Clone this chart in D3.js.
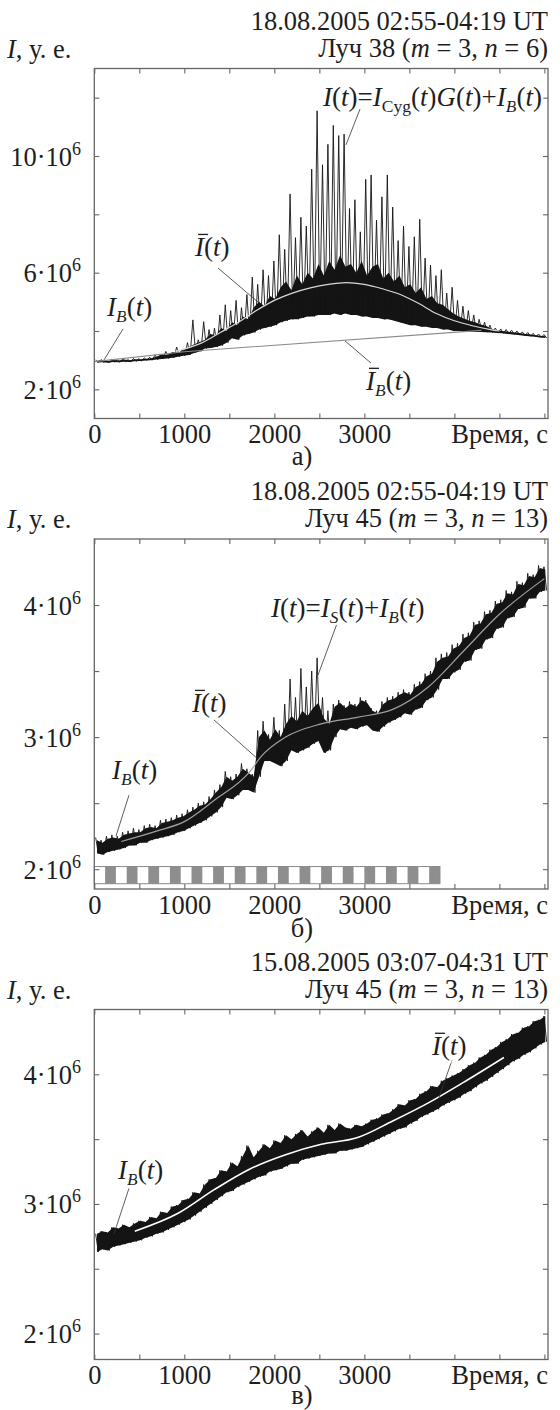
<!DOCTYPE html>
<html><head><meta charset="utf-8">
<script src="https://cdn.jsdelivr.net/npm/d3@7"></script>
<style>
body{margin:0;background:#fff;}
svg{display:block;}
text{fill:#1e1e1e;white-space:pre;font-family:"Liberation Serif","Times New Roman",serif;}
</style></head><body>
<svg id="chart" width="560" height="1410"></svg>
<script>
// ---------------- DATA ----------------
const binStep = 60;                 // seconds per bin of the raw record
const timeDomain = [0, 5040];       // seconds
const xTickValues = [0,500,1000,1500,2000,2500,3000,3500,4000,4500,5000];
const xLabelValues = [0,1000,2000,3000];
const xAxisTitle = "Время, с";

// panel а): spike tops / dense-core top / lower envelope (units of 10^6)
const hiA = [3.00,3.02,2.99,3.03,3.01,3.04,3.02,3.06,3.05,3.08,3.10,
 3.18,3.15,3.30,3.22,3.45,3.38,
 3.60,4.38,3.70,4.32,4.05,4.10,
 4.55,4.90,4.70,5.05,4.80,5.25,
 5.85,5.60,6.10,5.90,6.40,
 7.30,6.80,8.70,7.20,7.90,
 7.60,9.55,11.55,9.70,10.40,11.05,10.70,10.75,8.20,
 8.50,7.40,9.20,9.35,7.80,8.60,9.35,8.25,7.10,7.60,
 6.90,7.23,7.83,6.50,6.26,5.90,6.10,5.30,5.50,
 5.05,4.85,4.70,4.55,4.40,4.30,4.20,
 4.10,4.07,4.05,4.03,4.00,3.97,3.95,3.92,3.90,3.88];
const midA = [2.98,3.00,2.97,3.01,2.99,3.02,3.00,3.03,3.03,3.05,3.07,
 3.12,3.20,3.18,3.28,3.25,3.35,
 3.45,3.55,3.62,3.70,3.90,3.85,
 4.10,4.00,4.30,4.20,4.50,4.40,
 4.80,5.00,4.85,5.20,5.10,
 5.50,5.70,5.40,5.90,5.60,
 6.00,5.80,6.30,5.90,6.40,6.10,6.60,6.20,6.30,
 6.00,6.40,5.90,6.20,6.30,5.80,6.00,5.70,5.90,5.50,
 5.60,5.30,5.50,5.10,5.20,4.95,4.90,4.75,4.60,
 4.50,4.42,4.35,4.30,4.22,4.18,4.08,
 4.02,4.00,3.98,3.96,3.94,3.91,3.89,3.86,3.84,3.82];
const loA = [2.92,2.93,2.91,2.94,2.93,2.95,2.94,2.96,2.97,2.99,3.00,
 3.02,3.04,3.06,3.08,3.12,3.15,
 3.18,3.25,3.30,3.40,3.42,3.45,
 3.50,3.60,3.75,3.70,3.85,3.90,
 3.95,4.05,4.10,4.15,4.20,
 4.30,4.35,4.40,4.40,4.45,
 4.50,4.50,4.55,4.55,4.55,4.60,4.55,4.60,4.55,
 4.55,4.50,4.50,4.45,4.45,4.40,4.40,4.35,4.30,4.25,
 4.20,4.20,4.15,4.15,4.10,4.10,4.05,4.05,4.00,
 4.00,3.98,3.98,3.97,3.97,3.96,3.95,
 3.93,3.92,3.90,3.88,3.86,3.84,3.82,3.80,3.78,3.76];
const meanA_t = [900,1200,1400,1600,1800,2000,2200,2400,2600,2800,3000,3200,3400,3600,3800,4000,4200,4400,4500];
const meanA_v = [3.30,3.60,3.95,4.30,4.70,5.05,5.30,5.48,5.60,5.66,5.60,5.45,5.25,4.95,4.60,4.35,4.18,4.05,4.00];
const bgA_t = [0,1000,4300];
const bgA_v = [2.95,3.29,4.02];

// panel б)
const hiB = [2.24,2.22,2.25,2.26,2.25,2.28,2.29,2.31,2.30,2.33,
 2.34,2.33,2.37,2.38,2.39,2.41,2.42,2.45,2.47,2.50,
 2.51,2.55,2.60,2.64,2.74,2.70,2.72,2.80,2.76,2.72,
 3.05,3.12,3.02,3.15,3.05,3.25,3.44,3.30,3.52,3.38,
 3.50,3.60,3.30,3.20,3.25,3.28,3.24,3.27,3.25,3.30,
 3.28,3.22,3.20,3.27,3.30,3.31,3.34,3.36,3.34,3.40,
 3.42,3.48,3.50,3.60,3.63,3.64,3.70,3.71,3.78,3.79,
 3.87,3.88,3.95,3.96,4.03,4.04,4.11,4.10,4.18,4.17,
 4.24,4.23,4.30,4.29];
const midB = [2.22,2.20,2.23,2.24,2.23,2.26,2.27,2.28,2.28,2.31,
 2.32,2.31,2.35,2.36,2.37,2.39,2.40,2.43,2.45,2.48,
 2.49,2.53,2.58,2.62,2.70,2.67,2.70,2.76,2.73,2.70,
 3.00,3.05,2.98,3.06,3.00,3.10,3.16,3.12,3.20,3.16,
 3.22,3.26,3.14,3.10,3.23,3.26,3.22,3.25,3.23,3.28,
 3.26,3.20,3.18,3.25,3.28,3.29,3.32,3.34,3.32,3.38,
 3.40,3.46,3.48,3.57,3.60,3.61,3.67,3.69,3.75,3.77,
 3.85,3.86,3.93,3.94,4.01,4.02,4.09,4.08,4.16,4.15,
 4.22,4.21,4.28,4.27];
const loB = [2.12,2.11,2.13,2.14,2.15,2.16,2.18,2.18,2.20,2.20,
 2.22,2.23,2.24,2.25,2.26,2.28,2.29,2.31,2.33,2.35,
 2.37,2.40,2.43,2.47,2.54,2.53,2.56,2.60,2.60,2.58,
 2.70,2.82,2.82,2.80,2.78,2.82,2.90,2.88,2.90,2.92,
 2.95,2.97,2.88,2.90,3.00,3.06,3.05,3.07,3.06,3.08,
 3.09,3.05,3.04,3.08,3.11,3.13,3.15,3.18,3.17,3.21,
 3.22,3.28,3.30,3.36,3.44,3.44,3.49,3.51,3.57,3.58,
 3.66,3.67,3.74,3.75,3.82,3.83,3.90,3.91,3.97,3.98,
 4.05,4.05,4.10,4.11];
const meanB_t = [300,700,1000,1330,1730,1850,2125,2520,2920,3315,3710,4100,4500,5000];
const meanB_v = [2.21,2.29,2.36,2.52,2.74,2.85,3.00,3.10,3.15,3.21,3.38,3.65,3.93,4.20];
const stripeGrayStarts = [120,360,600,840,1080,1320,1560,1800,2040,2280,2520,2760,3000,3240,3480,3720];
const stripeSegment = 120, stripeEnd = 3840;

// panel в)
const hiC = [2.77,2.79,2.78,2.82,2.81,2.84,2.82,2.85,2.87,2.86,
 2.90,2.89,2.94,2.93,2.98,2.99,3.03,3.04,3.09,3.08,
 3.15,3.19,3.20,3.26,3.25,3.32,3.29,3.37,3.45,3.36,
 3.41,3.46,3.43,3.49,3.47,3.53,3.50,3.54,3.57,3.52,
 3.56,3.59,3.55,3.61,3.57,3.62,3.59,3.58,3.61,3.60,
 3.62,3.65,3.66,3.69,3.70,3.73,3.77,3.76,3.80,3.81,
 3.85,3.87,3.91,3.90,3.95,3.97,3.99,4.01,4.04,4.07,
 4.09,4.13,4.15,4.19,4.21,4.25,4.27,4.31,4.32,4.36,
 4.37,4.41,4.42,4.45];
const loC = [2.63,2.65,2.64,2.67,2.68,2.69,2.70,2.71,2.72,2.74,
 2.75,2.77,2.78,2.80,2.82,2.84,2.86,2.88,2.91,2.94,
 2.97,3.00,3.03,3.06,3.09,3.10,3.13,3.15,3.17,3.19,
 3.21,3.22,3.25,3.26,3.27,3.29,3.31,3.31,3.34,3.35,
 3.36,3.37,3.38,3.39,3.39,3.41,3.41,3.42,3.43,3.44,
 3.46,3.48,3.50,3.52,3.54,3.56,3.58,3.59,3.62,3.64,
 3.67,3.69,3.71,3.73,3.76,3.78,3.80,3.82,3.85,3.87,
 3.90,3.93,3.95,3.98,4.01,4.04,4.07,4.10,4.12,4.15,
 4.17,4.20,4.23,4.25];
const meanC_t = [450,936,1332,1729,2125,2522,2917,3315,3711,4106,4550];
const meanC_v = [2.79,2.93,3.11,3.27,3.38,3.46,3.51,3.64,3.78,3.94,4.13];

// ---------------- LAYOUT ----------------
const FAMILY = "'Liberation Serif','Times New Roman',serif";
const PLOT_L = 94.3, PLOT_R = 548, PLOT_H = 350;
const FONT = 26.5, NOTEFONT = 27, SUBFONT = 17.5, SUPFONT = 18;
const svg = d3.select("#chart").attr("font-family", FAMILY);
const x = d3.scaleLinear().domain(timeDomain).range([PLOT_L, PLOT_R]);

const IB  = [["I","i"],["B","subi"],["(","n"],["t","i"],[")","n"]];
const IBAR = [["I","over"],["(","n"],["t","i"],[")","n"]];
const IBBAR = [["I","over"],["B","subi"],["(","n"],["t","i"],[")","n"]];

const panels = [
 { top:68.5, yDomain:[1,13], yTicks:[2,4,6,8,10,12], yLabels:[2,6,10],
   hi:hiA, mid:midA, lo:loA, letter:"а)", letterDy:46.5,
   title1:"18.08.2005 02:55-04:19 UT",
   title2:[["Луч 38 (","n"],["m","i"],[" = 3, ","n"],["n","i"],[" = 6)","n"]],
   lines:[{t:bgA_t,v:bgA_v,color:"#8a8a8a",w:1.1,curve:d3.curveLinear},
          {t:meanA_t,v:meanA_v,color:"#d8d8d8",w:1.2,curve:d3.curveMonotoneX}],
   notes:[
     {parts:[["I","i"],["(","n"],["t","i"],[")=","n"],["I","i"],["Cyg","sub"],["(","n"],["t","i"],[")","n"],["G","i"],["(","n"],["t","i"],[")+","n"],["I","i"],["B","subi"],["(","n"],["t","i"],[")","n"]],
      at:[2541,11.71], lead:[[2952,11.61],[2796,10.38]]},
     {parts:IBAR, at:[1119,6.57], lead:[[1374,6.16],[1819,4.99]]},
     {parts:IB, at:[141,4.51], lead:[[319,4.07],[108,3.01]]},
     {parts:IBBAR, at:[3018,1.98], lead:[[3074,2.90],[2785,3.66]]}
   ]},
 { top:539, yDomain:[1.85,4.5], yTicks:[2,2.5,3,3.5,4], yLabels:[2,3,4],
   hi:hiB, mid:midB, lo:loB, letter:"б)", letterDy:48, stripes:true,
   title1:"18.08.2005 02:55-04:19 UT",
   title2:[["Луч 45 (","n"],["m","i"],[" = 3, ","n"],["n","i"],[" = 13)","n"]],
   lines:[{t:meanB_t,v:meanB_v,color:"#a0a0a0",w:1.2,curve:d3.curveMonotoneX}],
   notes:[
     {parts:[["I","i"],["(","n"],["t","i"],[")=","n"],["I","i"],["S","subi"],["(","n"],["t","i"],[")+","n"],["I","i"],["B","subi"],["(","n"],["t","i"],[")","n"]],
      at:[1963,3.91], lead:[[2702,3.87],[2485,3.47]]},
     {parts:IBAR, at:[1085,3.19], lead:[[1330,3.13],[1807,2.84]]},
     {parts:IB, at:[197,2.68], lead:[[385,2.56],[241,2.25]]}
   ]},
 { top:1009.5, yDomain:[1.8,4.5], yTicks:[2,2.5,3,3.5,4], yLabels:[2,3,4],
   hi:hiC, mid:hiC, lo:loC, letter:"в)", letterDy:44,
   title1:"15.08.2005 03:07-04:31 UT",
   title2:[["Луч 45 (","n"],["m","i"],[" = 3, ","n"],["n","i"],[" = 13)","n"]],
   lines:[{t:meanC_t,v:meanC_v,color:"#ffffff",w:1.6,curve:d3.curveMonotoneX}],
   notes:[
     {parts:IBAR, at:[3751,4.15], lead:[[3974,4.11],[3829,3.82]]},
     {parts:IB, at:[263,3.19], lead:[[385,3.12],[219,2.77]]}
   ]}
];

// rich text helper: parts = [[string, style]]
function rich(g, px, py, parts, opts={}) {
  const fs = opts.size || FONT;
  const t = g.append("text").attr("x", px).attr("y", py)
    .attr("font-size", fs).attr("font-family", FAMILY)
    .attr("text-anchor", opts.anchor || "start");
  if (opts.halo) t.attr("stroke","#fff").attr("stroke-width",5)
      .attr("stroke-linejoin","round").attr("paint-order","stroke");
  let shift = 0;
  parts.forEach(([s, st]) => {
    const sp = t.append("tspan").text(s);
    let want = 0;
    if (st === "i" || st === "over" || st === "subi") sp.attr("font-style","italic");
    if (st === "sub" || st === "subi") { sp.attr("font-size", SUBFONT); want = 6; }
    if (st === "sup") { sp.attr("font-size", SUPFONT); want = -11; }
    if (want !== shift) { sp.attr("dy", want - shift); shift = want; }
  });
  if (parts[0][1] === "over") {
    const node = t.node();
    const a = node.getStartPositionOfChar(0).x, b = node.getEndPositionOfChar(0).x;
    g.append("line").attr("x1", a + 3).attr("x2", b + 4)
      .attr("y1", py - fs*0.8).attr("y2", py - fs*0.8)
      .attr("stroke","#1e1e1e").attr("stroke-width",1.3);
  }
  return t;
}

panels.forEach(p => {
  const g = svg.append("g");
  const bottom = p.top + PLOT_H;
  const y = d3.scaleLinear().domain(p.yDomain).range([bottom, p.top]);

  // titles
  g.append("text").attr("x", PLOT_R).attr("y", p.top - 39).attr("text-anchor","end")
    .attr("font-size", FONT).attr("font-family", FAMILY).text(p.title1);
  rich(g, PLOT_R, p.top - 12, p.title2, {anchor:"end"});
  rich(g, 7, p.top - 11, [["I","i"],[", у. е.","n"]]);

  // dense band (filled between lower envelope and band top)
  const area = d3.area().x((d,i) => x(i * binStep + binStep/2))
    .y0((d,i) => y(p.lo[i])).y1((d,i) => y(p.mid[i]));
  g.append("path").attr("d", area(p.hi)).attr("fill","#141414");

  // raw trace spikes: zig-zag through spike tops and lows
  const pts = [];
  p.hi.forEach((h, i) => {
    const t0 = i * binStep;
    pts.push([t0 + 15, h], [t0 + 45, p.lo[i]]);
  });
  const line = d3.line().x(d => x(d[0])).y(d => y(d[1]));
  g.append("path").attr("d", line(pts)).attr("fill","none")
    .attr("stroke","#141414").attr("stroke-width",0.9);

  // mean / background curves
  p.lines.forEach(L => {
    const lg = d3.line().curve(L.curve).x(d => x(d[0])).y(d => y(d[1]));
    g.append("path").attr("d", lg(L.t.map((t,i) => [t, L.v[i]])))
      .attr("fill","none").attr("stroke", L.color).attr("stroke-width", L.w);
  });

  // stripe bar
  if (p.stripes) {
    const yb0 = y(2.02), yb1 = y(1.89);
    g.append("rect").attr("x", x(0)).attr("y", yb0).attr("width", x(stripeEnd) - x(0))
      .attr("height", yb1 - yb0).attr("fill","#fff");
    g.selectAll(".stripe").data(stripeGrayStarts).enter().append("rect")
      .attr("x", d => x(d)).attr("y", yb0).attr("width", d => x(d + stripeSegment) - x(d))
      .attr("height", yb1 - yb0).attr("fill","#8e8e8e");
    g.append("rect").attr("x", x(0)).attr("y", yb0).attr("width", x(stripeEnd) - x(0))
      .attr("height", yb1 - yb0).attr("fill","none").attr("stroke","#8a8a8a").attr("stroke-width",1);
  }

  // frame
  g.append("rect").attr("x", PLOT_L).attr("y", p.top).attr("width", PLOT_R - PLOT_L)
    .attr("height", PLOT_H).attr("fill","none").attr("stroke","#666").attr("stroke-width",1.3);

  // axes (inward ticks)
  const styleAxis = sel => {
    sel.select(".domain").remove();
    sel.selectAll(".tick line").attr("stroke","#666").attr("stroke-width",1.1);
    sel.attr("font-size", FONT).attr("font-family", FAMILY);
    sel.selectAll(".tick text").attr("fill","#1e1e1e");
  };
  g.append("g").attr("transform", `translate(0,${bottom})`)
    .call(d3.axisBottom(x).tickValues(xTickValues).tickSizeInner(-5).tickSizeOuter(0).tickPadding(6)
      .tickFormat(d => xLabelValues.includes(d) ? String(d) : ""))
    .call(styleAxis);
  g.append("g").attr("transform", `translate(0,${p.top})`)
    .call(d3.axisTop(x).tickValues(xTickValues).tickSizeInner(-5).tickSizeOuter(0).tickFormat(""))
    .call(styleAxis);
  g.append("g").attr("transform", `translate(${PLOT_L},0)`)
    .call(d3.axisLeft(y).tickValues(p.yTicks).tickSizeInner(-5).tickSizeOuter(0).tickFormat(""))
    .call(styleAxis);
  g.append("g").attr("transform", `translate(${PLOT_R},0)`)
    .call(d3.axisRight(y).tickValues(p.yTicks).tickSizeInner(-5).tickSizeOuter(0).tickFormat(""))
    .call(styleAxis);

  // y labels N·10^6
  p.yLabels.forEach(v => {
    rich(g, PLOT_L - 13.3, y(v) + 9.5, [[v + "·10","n"],["6","sup"]], {anchor:"end"});
  });
  g.append("text").attr("x", PLOT_R).attr("y", bottom + 24.5).attr("text-anchor","end")
    .attr("font-size", FONT).attr("font-family", FAMILY).text(xAxisTitle);
  g.append("text").attr("x", 302).attr("y", bottom + p.letterDy).attr("text-anchor","middle")
    .attr("font-size", FONT).attr("font-family", FAMILY).text(p.letter);

  // annotations
  p.notes.forEach(n => {
    g.append("line").attr("x1", x(n.lead[0][0])).attr("y1", y(n.lead[0][1]))
      .attr("x2", x(n.lead[1][0])).attr("y2", y(n.lead[1][1]))
      .attr("stroke","#333").attr("stroke-width",0.8);
  });
  p.notes.forEach(n => {
    rich(g, x(n.at[0]), y(n.at[1]), n.parts, {halo:true, size:NOTEFONT});
  });
});
</script>
</body></html>
